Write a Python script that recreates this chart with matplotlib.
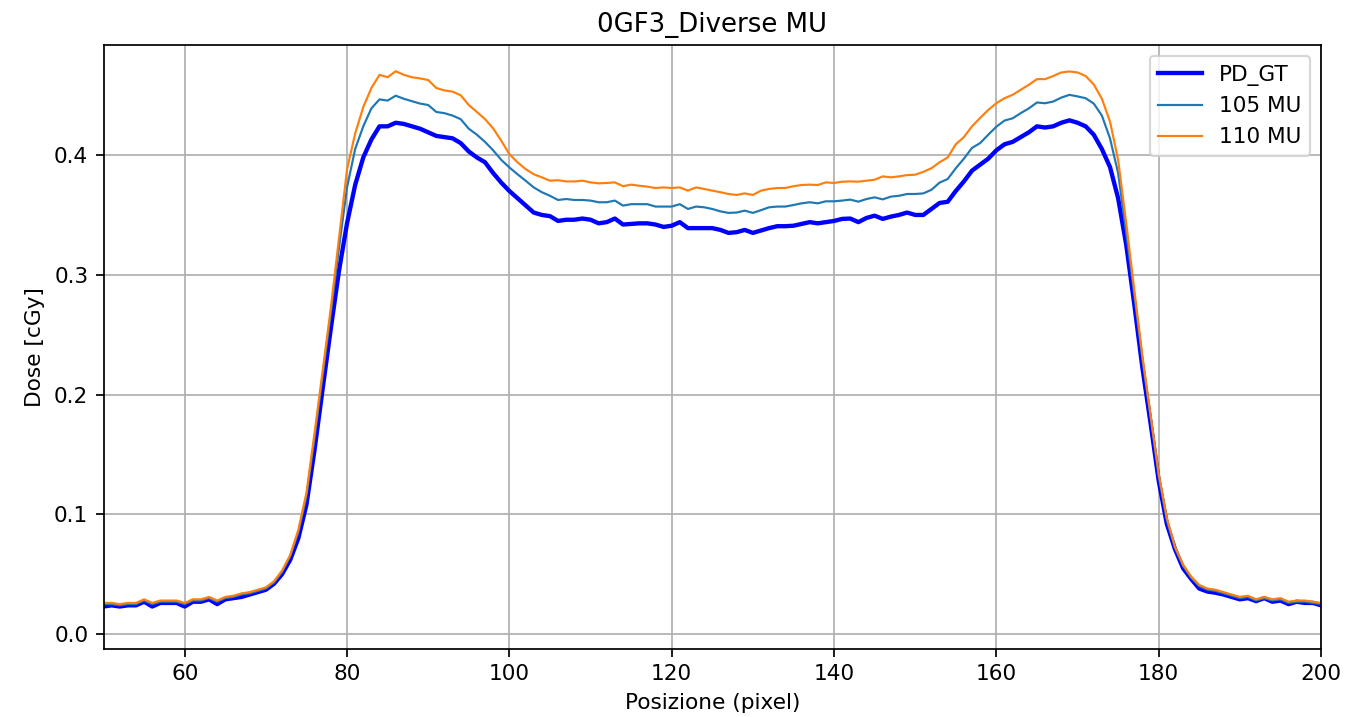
import numpy as np
from matplotlib import pyplot

# pixel positions along the profile
positions = np.arange(50, 201)

pd_gt = [
    0.023, 0.024, 0.023, 0.024, 0.024, 0.027, 0.023, 0.026, 0.026, 0.026,
    0.023, 0.027, 0.027, 0.029, 0.025, 0.029, 0.030, 0.031, 0.033, 0.035,
    0.037, 0.042, 0.050, 0.062, 0.080, 0.108, 0.154, 0.205, 0.255, 0.303,
    0.343, 0.375, 0.398, 0.413, 0.424, 0.424, 0.427, 0.426, 0.424, 0.422,
    0.419, 0.416, 0.415, 0.414, 0.410, 0.403, 0.398, 0.394, 0.385, 0.377,
    0.370, 0.364, 0.358, 0.352, 0.350, 0.349, 0.345, 0.346, 0.346, 0.347,
    0.346, 0.343, 0.344, 0.347, 0.342, 0.3425, 0.343, 0.343, 0.342, 0.340,
    0.341, 0.344, 0.339, 0.339, 0.339, 0.339, 0.3375, 0.335, 0.3356, 0.3375,
    0.335, 0.337, 0.339, 0.3406, 0.3406, 0.341, 0.3425, 0.344, 0.343, 0.344,
    0.345, 0.3467, 0.347, 0.344, 0.3475, 0.3494, 0.3467, 0.3486, 0.350, 0.352,
    0.350, 0.350, 0.355, 0.360, 0.361, 0.370, 0.378, 0.387, 0.392, 0.397,
    0.404, 0.409, 0.411, 0.415, 0.419, 0.424, 0.423, 0.424, 0.427, 0.429,
    0.427, 0.424, 0.417, 0.405, 0.390, 0.364, 0.325, 0.275, 0.222, 0.176,
    0.128, 0.092, 0.071, 0.055, 0.046, 0.038, 0.0355, 0.0345, 0.033, 0.031,
    0.029, 0.030, 0.0275, 0.030, 0.027, 0.028, 0.025, 0.027, 0.026, 0.026,
    0.024,
]

mu_105 = [
    0.025, 0.025, 0.024, 0.025, 0.025, 0.028, 0.025, 0.027, 0.027, 0.027,
    0.025, 0.028, 0.028, 0.030, 0.027, 0.030, 0.031, 0.033, 0.034, 0.036,
    0.038, 0.043, 0.052, 0.065, 0.085, 0.115, 0.164, 0.216, 0.268, 0.322,
    0.373, 0.405, 0.424, 0.439, 0.4465, 0.4455, 0.4496, 0.447, 0.445, 0.443,
    0.4418, 0.436, 0.435, 0.433, 0.430, 0.422, 0.417, 0.411, 0.404, 0.396,
    0.3897, 0.384, 0.3786, 0.373, 0.369, 0.366, 0.3625, 0.3633, 0.3625, 0.3625,
    0.362, 0.3606, 0.3606, 0.362, 0.3578, 0.359, 0.359, 0.359, 0.357, 0.357,
    0.357, 0.359, 0.355, 0.357, 0.3564, 0.355, 0.353, 0.3517, 0.352, 0.3536,
    0.3517, 0.354, 0.3564, 0.357, 0.357, 0.3583, 0.3597, 0.3606, 0.3597, 0.3614,
    0.3614, 0.362, 0.3628, 0.3611, 0.3633, 0.3647, 0.363, 0.3653, 0.366, 0.3675,
    0.3675, 0.368, 0.371, 0.377, 0.380, 0.389, 0.397, 0.406, 0.410, 0.417,
    0.4237, 0.4288, 0.4307, 0.435, 0.439, 0.4439, 0.4433, 0.4447, 0.448, 0.4503,
    0.449, 0.4475, 0.443, 0.433, 0.414, 0.385, 0.335, 0.283, 0.229, 0.181,
    0.132, 0.095, 0.072, 0.057, 0.047, 0.040, 0.037, 0.036, 0.034, 0.032,
    0.030, 0.031, 0.028, 0.030, 0.028, 0.029, 0.026, 0.027, 0.027, 0.026,
    0.025,
]

mu_110 = [
    0.026, 0.026, 0.025, 0.026, 0.026, 0.029, 0.026, 0.028, 0.028, 0.028,
    0.026, 0.029, 0.029, 0.031, 0.028, 0.031, 0.032, 0.034, 0.035, 0.037,
    0.039, 0.044, 0.053, 0.066, 0.087, 0.118, 0.168, 0.220, 0.272, 0.330,
    0.388, 0.418, 0.440, 0.456, 0.467, 0.465, 0.470, 0.467, 0.465, 0.464,
    0.4627, 0.456, 0.454, 0.453, 0.450, 0.4418, 0.436, 0.430, 0.4223, 0.412,
    0.4008, 0.394, 0.3883, 0.384, 0.3814, 0.3786, 0.379, 0.378, 0.378, 0.3786,
    0.3772, 0.3764, 0.3767, 0.3772, 0.374, 0.3753, 0.3744, 0.3736, 0.3725, 0.373,
    0.3725, 0.373, 0.3703, 0.373, 0.3717, 0.3703, 0.369, 0.3675, 0.3667, 0.368,
    0.3667, 0.3703, 0.3717, 0.3725, 0.3725, 0.374, 0.375, 0.3753, 0.375, 0.3772,
    0.3767, 0.3778, 0.378, 0.3778, 0.3786, 0.3794, 0.3822, 0.3814, 0.3822, 0.3833,
    0.3836, 0.386, 0.389, 0.394, 0.398, 0.409, 0.415, 0.424, 0.431, 0.4377,
    0.4433, 0.4475, 0.4503, 0.4545, 0.4587, 0.4634, 0.4634, 0.466, 0.469, 0.4698,
    0.469, 0.466, 0.459, 0.447, 0.428, 0.396, 0.343, 0.287, 0.232, 0.183,
    0.134, 0.097, 0.073, 0.058, 0.048, 0.041, 0.038, 0.037, 0.035, 0.033,
    0.031, 0.032, 0.029, 0.031, 0.029, 0.030, 0.027, 0.028, 0.028, 0.027,
    0.026,
]

dpi = 156
fig, ax = pyplot.subplots(figsize=(1364 / dpi, 717 / dpi), dpi=dpi)
fig.subplots_adjust(left=0.0759, right=0.9685, bottom=0.0948, top=0.9372)

ax.plot(positions, pd_gt, label="PD_GT", color="blue", linewidth=2)
ax.plot(positions, mu_105, label="105 MU", color="tab:blue", linewidth=1)
ax.plot(positions, mu_110, label="110 MU", color="tab:orange", linewidth=1)

ax.set_title("0GF3_Diverse MU")
ax.set_xlabel("Posizione (pixel)")
ax.set_ylabel("Dose [cGy]")
ax.set_xlim(50, 200)
ax.set_ylim(-0.0125, 0.4919)
ax.grid()
ax.legend(loc="upper right")

pyplot.savefig("out.png", dpi=dpi)
